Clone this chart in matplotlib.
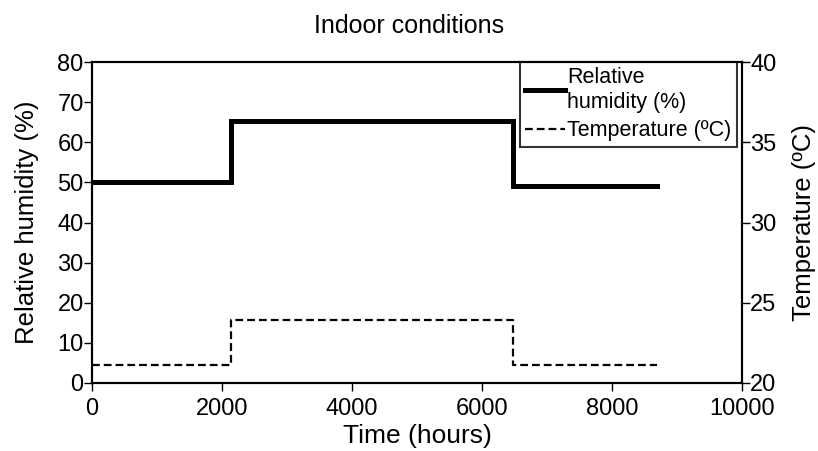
import matplotlib.pyplot as plt

plt.rcParams['font.family'] = ['Liberation Sans', 'DejaVu Sans']

# Step data: humidity (%) and temperature (ºC) over the year
time_h = [0, 2140, 2140, 6480, 6480, 8700]
rh = [50, 50, 65.3, 65.3, 49.1, 49.1]
temp = [21.1, 21.1, 23.9, 23.9, 21.1, 21.1]

fig = plt.figure(figsize=(8.18, 4.51), dpi=100)
ax1 = fig.add_axes([0.1125, 0.1508, 0.7945, 0.7117])

l1, = ax1.plot(time_h, rh, color='black', lw=3.6, solid_joinstyle='miter',
               label='Relative\nhumidity (%)')
ax1.set_xlim(0, 10000)
ax1.set_ylim(0, 80)
ax1.set_xticks([0, 2000, 4000, 6000, 8000, 10000])
ax1.set_yticks(range(0, 81, 10))
ax1.set_xlabel('Time (hours)', fontsize=19, labelpad=3)
ax1.set_ylabel('Relative humidity (%)', fontsize=18.5, labelpad=13)
ax1.tick_params(labelsize=17, length=6, width=1, direction='out', pad=0)
ax1.tick_params(axis='x', pad=5)

ax2 = ax1.twinx()
l2, = ax2.plot(time_h, temp, color='black', lw=1.6, dashes=(3.5, 1.8),
               label='Temperature (ºC)')
ax2.set_ylim(20, 40)
ax2.set_yticks([20, 25, 30, 35, 40])
ax2.set_ylabel('Temperature (ºC)', fontsize=18.5, labelpad=11)
ax2.tick_params(labelsize=17, length=6, width=1, direction='out', pad=0)

for ax in (ax1, ax2):
    for s in ax.spines.values():
        s.set_linewidth(1.5)

leg = ax1.legend(handles=[l1, l2], loc='upper right',
                 bbox_to_anchor=(0.9923, 1.0), fontsize=15.5,
                 frameon=True, fancybox=False, handlelength=1.85,
                 handletextpad=0.1, borderpad=0.25, labelspacing=0.35,
                 borderaxespad=0)
leg.get_frame().set_edgecolor('black')
leg.get_frame().set_linewidth(1.5)

fig.suptitle('Indoor conditions', fontsize=18, y=0.97)

fig.savefig('out.png', dpi=100)
